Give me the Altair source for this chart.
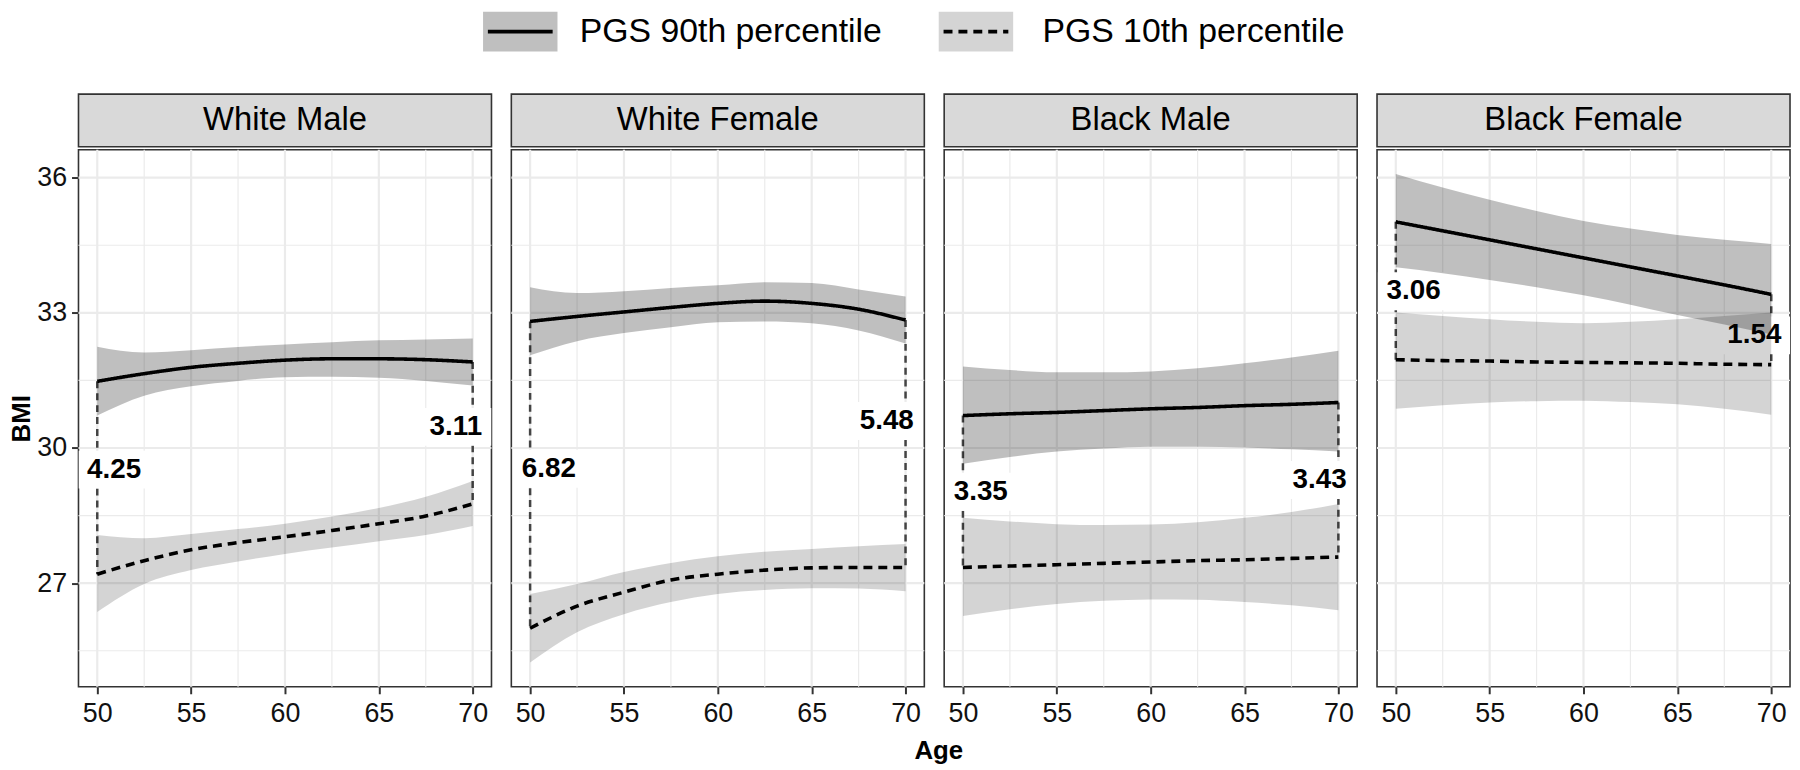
import altair as alt
import pandas as pd

FONT = "Liberation Sans"

# ---------------- data ----------------
ages = [50, 52.5, 55, 57.5, 60, 62.5, 65, 67.5, 70]
panels = ["White Male", "White Female", "Black Male", "Black Female"]
series_names = ["PGS 90th percentile", "PGS 10th percentile"]

# White Male
wm_p90_fit = [31.48, 31.65, 31.79, 31.88, 31.95, 31.98, 31.98, 31.96, 31.91]
wm_p90_lo = [30.72, 31.16, 31.37, 31.49, 31.57, 31.58, 31.56, 31.49, 31.39]
wm_p90_hi = [32.25, 32.12, 32.17, 32.24, 32.30, 32.35, 32.39, 32.41, 32.43]
wm_p10_fit = [27.20, 27.50, 27.74, 27.90, 28.03, 28.17, 28.32, 28.49, 28.76]
wm_p10_lo = [26.36, 26.98, 27.29, 27.48, 27.65, 27.79, 27.93, 28.07, 28.27]
wm_p10_hi = [28.07, 28.00, 28.09, 28.20, 28.32, 28.48, 28.67, 28.92, 29.27]

# White Female
wf_p90_fit = [32.81, 32.92, 33.02, 33.12, 33.21, 33.26, 33.21, 33.08, 32.84]
wf_p90_lo = [32.06, 32.37, 32.55, 32.68, 32.79, 32.81, 32.77, 32.61, 32.32]
wf_p90_hi = [33.57, 33.44, 33.48, 33.55, 33.61, 33.68, 33.66, 33.52, 33.36]
wf_p10_fit = [26.00, 26.49, 26.80, 27.07, 27.20, 27.29, 27.34, 27.35, 27.35]
wf_p10_lo = [25.24, 25.91, 26.31, 26.58, 26.76, 26.85, 26.89, 26.88, 26.82]
wf_p10_hi = [26.76, 26.98, 27.25, 27.45, 27.60, 27.70, 27.76, 27.82, 27.87]

# Black Male
bm_p90_fit = [30.72, 30.76, 30.79, 30.83, 30.87, 30.90, 30.94, 30.97, 31.01]
bm_p90_lo = [29.65, 29.80, 29.92, 29.99, 30.03, 30.03, 30.01, 29.97, 29.92]
bm_p90_hi = [31.81, 31.73, 31.68, 31.68, 31.70, 31.77, 31.88, 32.01, 32.16]
bm_p10_fit = [27.35, 27.38, 27.41, 27.44, 27.47, 27.50, 27.52, 27.55, 27.58]
bm_p10_lo = [26.27, 26.42, 26.54, 26.61, 26.64, 26.63, 26.58, 26.51, 26.40]
bm_p10_hi = [28.45, 28.37, 28.31, 28.29, 28.30, 28.35, 28.45, 28.58, 28.76]

# Black Female
bf_p90_fit = [35.02, 34.82, 34.62, 34.42, 34.22, 34.02, 33.82, 33.62, 33.41]
bf_p90_lo = [34.01, 33.88, 33.73, 33.57, 33.39, 33.18, 32.95, 32.74, 32.52]
bf_p90_hi = [36.08, 35.78, 35.51, 35.26, 35.04, 34.87, 34.73, 34.62, 34.53]
bf_p10_fit = [31.96, 31.94, 31.93, 31.91, 31.90, 31.89, 31.88, 31.86, 31.85]
bf_p10_lo = [30.87, 30.95, 31.01, 31.04, 31.05, 31.02, 30.97, 30.87, 30.74]
bf_p10_hi = [33.01, 32.93, 32.86, 32.80, 32.77, 32.80, 32.86, 32.93, 33.01]

# gap labels
gap_label_panel = ["White Male", "White Male", "White Female", "White Female",
                   "Black Male", "Black Male", "Black Female", "Black Female"]
gap_label_text = ["4.25", "3.11", "6.82", "5.48", "3.35", "3.43", "3.06", "1.54"]
gap_label_age = [50.9, 69.1, 51.0, 69.0, 50.95, 69.0, 50.95, 69.1]
gap_label_bmi = [29.52, 30.47, 29.54, 30.60, 29.03, 29.29, 33.48, 32.50]

x_major = [50, 55, 60, 65, 70]
x_minor = [52.5, 57.5, 62.5, 67.5]
y_major = [27, 30, 33, 36]
y_minor = [25.5, 28.5, 31.5, 34.5]

series_data = {
    "White Male": [(wm_p90_fit, wm_p90_lo, wm_p90_hi), (wm_p10_fit, wm_p10_lo, wm_p10_hi)],
    "White Female": [(wf_p90_fit, wf_p90_lo, wf_p90_hi), (wf_p10_fit, wf_p10_lo, wf_p10_hi)],
    "Black Male": [(bm_p90_fit, bm_p90_lo, bm_p90_hi), (bm_p10_fit, bm_p10_lo, bm_p10_hi)],
    "Black Female": [(bf_p90_fit, bf_p90_lo, bf_p90_hi), (bf_p10_fit, bf_p10_lo, bf_p10_hi)],
}

rows, conn_rows = [], []
for g, sl in series_data.items():
    for s, (fit, lo, hi) in zip(series_names, sl):
        for a, f, l, h in zip(ages, fit, lo, hi):
            rows.append(dict(group=g, series=s, age=a, fit=f, lo=l, hi=h))
    top, bot = sl[0][0], sl[1][0]
    conn_rows.append(dict(group=g, age=ages[0], top=top[0], bottom=bot[0]))
    conn_rows.append(dict(group=g, age=ages[-1], top=top[-1], bottom=bot[-1]))
df = pd.DataFrame(rows)
conn_df = pd.DataFrame(conn_rows)
lab_df = pd.DataFrame(dict(group=gap_label_panel, text=gap_label_text,
                           age=gap_label_age, bmi=gap_label_bmi))

# ---------------- layout / style ----------------
PW, PH = 416, 541
GAP = 16
STRIP_H = 53
GRID = "#ebebeb"
BORDER = "#333333"
xs = alt.Scale(domain=[49, 71], nice=False, zero=False)
ys = alt.Scale(domain=[24.7, 36.62], nice=False, zero=False)
BOX = "M-1,-0.53H1V0.53H-1Z"


def panel(g, first):
    d = df[df.group == g]
    xaxis = alt.Axis(values=x_major, title=None, grid=False, domain=False,
                     tickColor=BORDER, tickWidth=2, tickSize=7,
                     labelFont=FONT, labelFontSize=27, labelColor="#111111",
                     labelPadding=7, labelFlush=False)
    if first:
        yaxis = alt.Axis(values=y_major, title="BMI", grid=False, domain=False,
                         tickColor=BORDER, tickWidth=2, tickSize=7,
                         labelFont=FONT, labelFontSize=27, labelColor="#111111",
                         labelPadding=5, titleFont=FONT, titleFontSize=26,
                         titleFontWeight="bold", titleColor="black", titlePadding=2)
    else:
        yaxis = None

    def X(field):
        return alt.X(field, scale=xs, axis=xaxis)

    def Y(field):
        return alt.Y(field, scale=ys, axis=yaxis)

    ygrid_min = alt.Chart(pd.DataFrame({"v": y_minor})).mark_rule(
        color=GRID, strokeWidth=1.2).encode(y=Y("v:Q"))
    ygrid_maj = alt.Chart(pd.DataFrame({"v": y_major})).mark_rule(
        color=GRID, strokeWidth=2.2).encode(y=Y("v:Q"))
    xgrid_min = alt.Chart(pd.DataFrame({"v": x_minor})).mark_rule(
        color=GRID, strokeWidth=1.2).encode(x=X("v:Q"))
    xgrid_maj = alt.Chart(pd.DataFrame({"v": x_major})).mark_rule(
        color=GRID, strokeWidth=2.2).encode(x=X("v:Q"))

    conn = alt.Chart(conn_df[conn_df.group == g]).mark_rule(
        color="#444444", strokeWidth=2.5, strokeDash=[7, 5]).encode(
        x=X("age:Q"), y=Y("top:Q"), y2="bottom:Q")

    ld = lab_df[lab_df.group == g]
    boxes = alt.Chart(ld).mark_point(
        shape=BOX, filled=True, color="white", opacity=1, size=72 * 72,
        strokeWidth=0, clip=True).encode(x=X("age:Q"), y=Y("bmi:Q"))

    bands = alt.Chart(d).mark_area(color="black", interpolate="monotone").encode(
        x=X("age:Q"), y=Y("lo:Q"), y2="hi:Q",
        opacity=alt.Opacity("series:N", scale=alt.Scale(domain=series_names, range=[0.25, 0.17]),
                            legend=None),
        detail="series:N")

    lines = alt.Chart(d).mark_line(color="black", strokeWidth=3.6, interpolate="monotone").encode(
        x=X("age:Q"), y=Y("fit:Q"),
        strokeDash=alt.StrokeDash("series:N",
                                  scale=alt.Scale(domain=series_names, range=[[1, 0], [12, 8]]),
                                  legend=None))

    texts = alt.Chart(ld).mark_text(font=FONT, fontSize=28, fontWeight="bold",
                                    color="black", clip=True).encode(
        x=X("age:Q"), y=Y("bmi:Q"), text="text:N")

    return alt.layer(ygrid_min, ygrid_maj, xgrid_min, xgrid_maj, conn, boxes,
                     bands, lines, texts).properties(
        width=PW, height=PH,
        view=alt.ViewBackground(stroke=BORDER, strokeWidth=1.6, fill="white"))


def strip(g):
    return alt.Chart(pd.DataFrame({"label": [g]})).mark_text(
        font=FONT, fontSize=33, color="black").encode(text="label:N").properties(
        width=PW, height=STRIP_H,
        view=alt.ViewBackground(fill="#d9d9d9", stroke=BORDER, strokeWidth=1.6))


cols = [alt.vconcat(strip(g), panel(g, i == 0), spacing=0) for i, g in enumerate(panels)]

# ---------------- legend (origin = left edge of the first panel) ----------------
LEG_W, LEG_H = 4 * PW + 3 * GAP, 40
leg_df = pd.DataFrame({"series": series_names})
key_scale = alt.Scale(type="point", domain=series_names, range=[445, 904], padding=0)
txt_scale = alt.Scale(type="point", domain=series_names, range=[505, 971], padding=0)
leg_keys = alt.Chart(leg_df).mark_point(
    shape="M-1,-0.533H1V0.533H-1Z", filled=True, color="black", size=75 * 75,
    strokeWidth=0).encode(
    x=alt.X("series:N", scale=key_scale, axis=None),
    y=alt.value(LEG_H / 2),
    opacity=alt.Opacity("series:N", scale=alt.Scale(domain=series_names, range=[0.25, 0.17]),
                        legend=None))
leg_lines = alt.Chart(leg_df).mark_point(
    shape="M-0.87,0H0.87", filled=False, color="black", opacity=1, size=75 * 75,
    strokeWidth=3.6).encode(
    x=alt.X("series:N", scale=key_scale, axis=None),
    y=alt.value(LEG_H / 2),
    strokeDash=alt.StrokeDash("series:N",
                              scale=alt.Scale(domain=series_names, range=[[1, 0], [9, 6]]),
                              legend=None))
leg_text = alt.Chart(leg_df).mark_text(
    font=FONT, fontSize=34, color="black", align="left", baseline="middle").encode(
    x=alt.X("series:N", scale=txt_scale, axis=None),
    y=alt.value(LEG_H / 2),
    text="series:N")
legend = alt.layer(alt.layer(leg_keys, leg_lines), leg_text).resolve_scale(
    x="independent").properties(width=LEG_W, height=LEG_H)

chart = alt.vconcat(legend, alt.hconcat(*cols, spacing=GAP), spacing=41).properties(
    padding=0,
    background="white",
    title=alt.TitleParams("Age", orient="bottom", anchor="middle", dx=39, offset=11,
                          font=FONT, fontSize=26, fontWeight="bold", color="black"),
).configure_view(stroke="transparent")

chart.save("out.html", embed_options={"renderer": "svg", "actions": False})
